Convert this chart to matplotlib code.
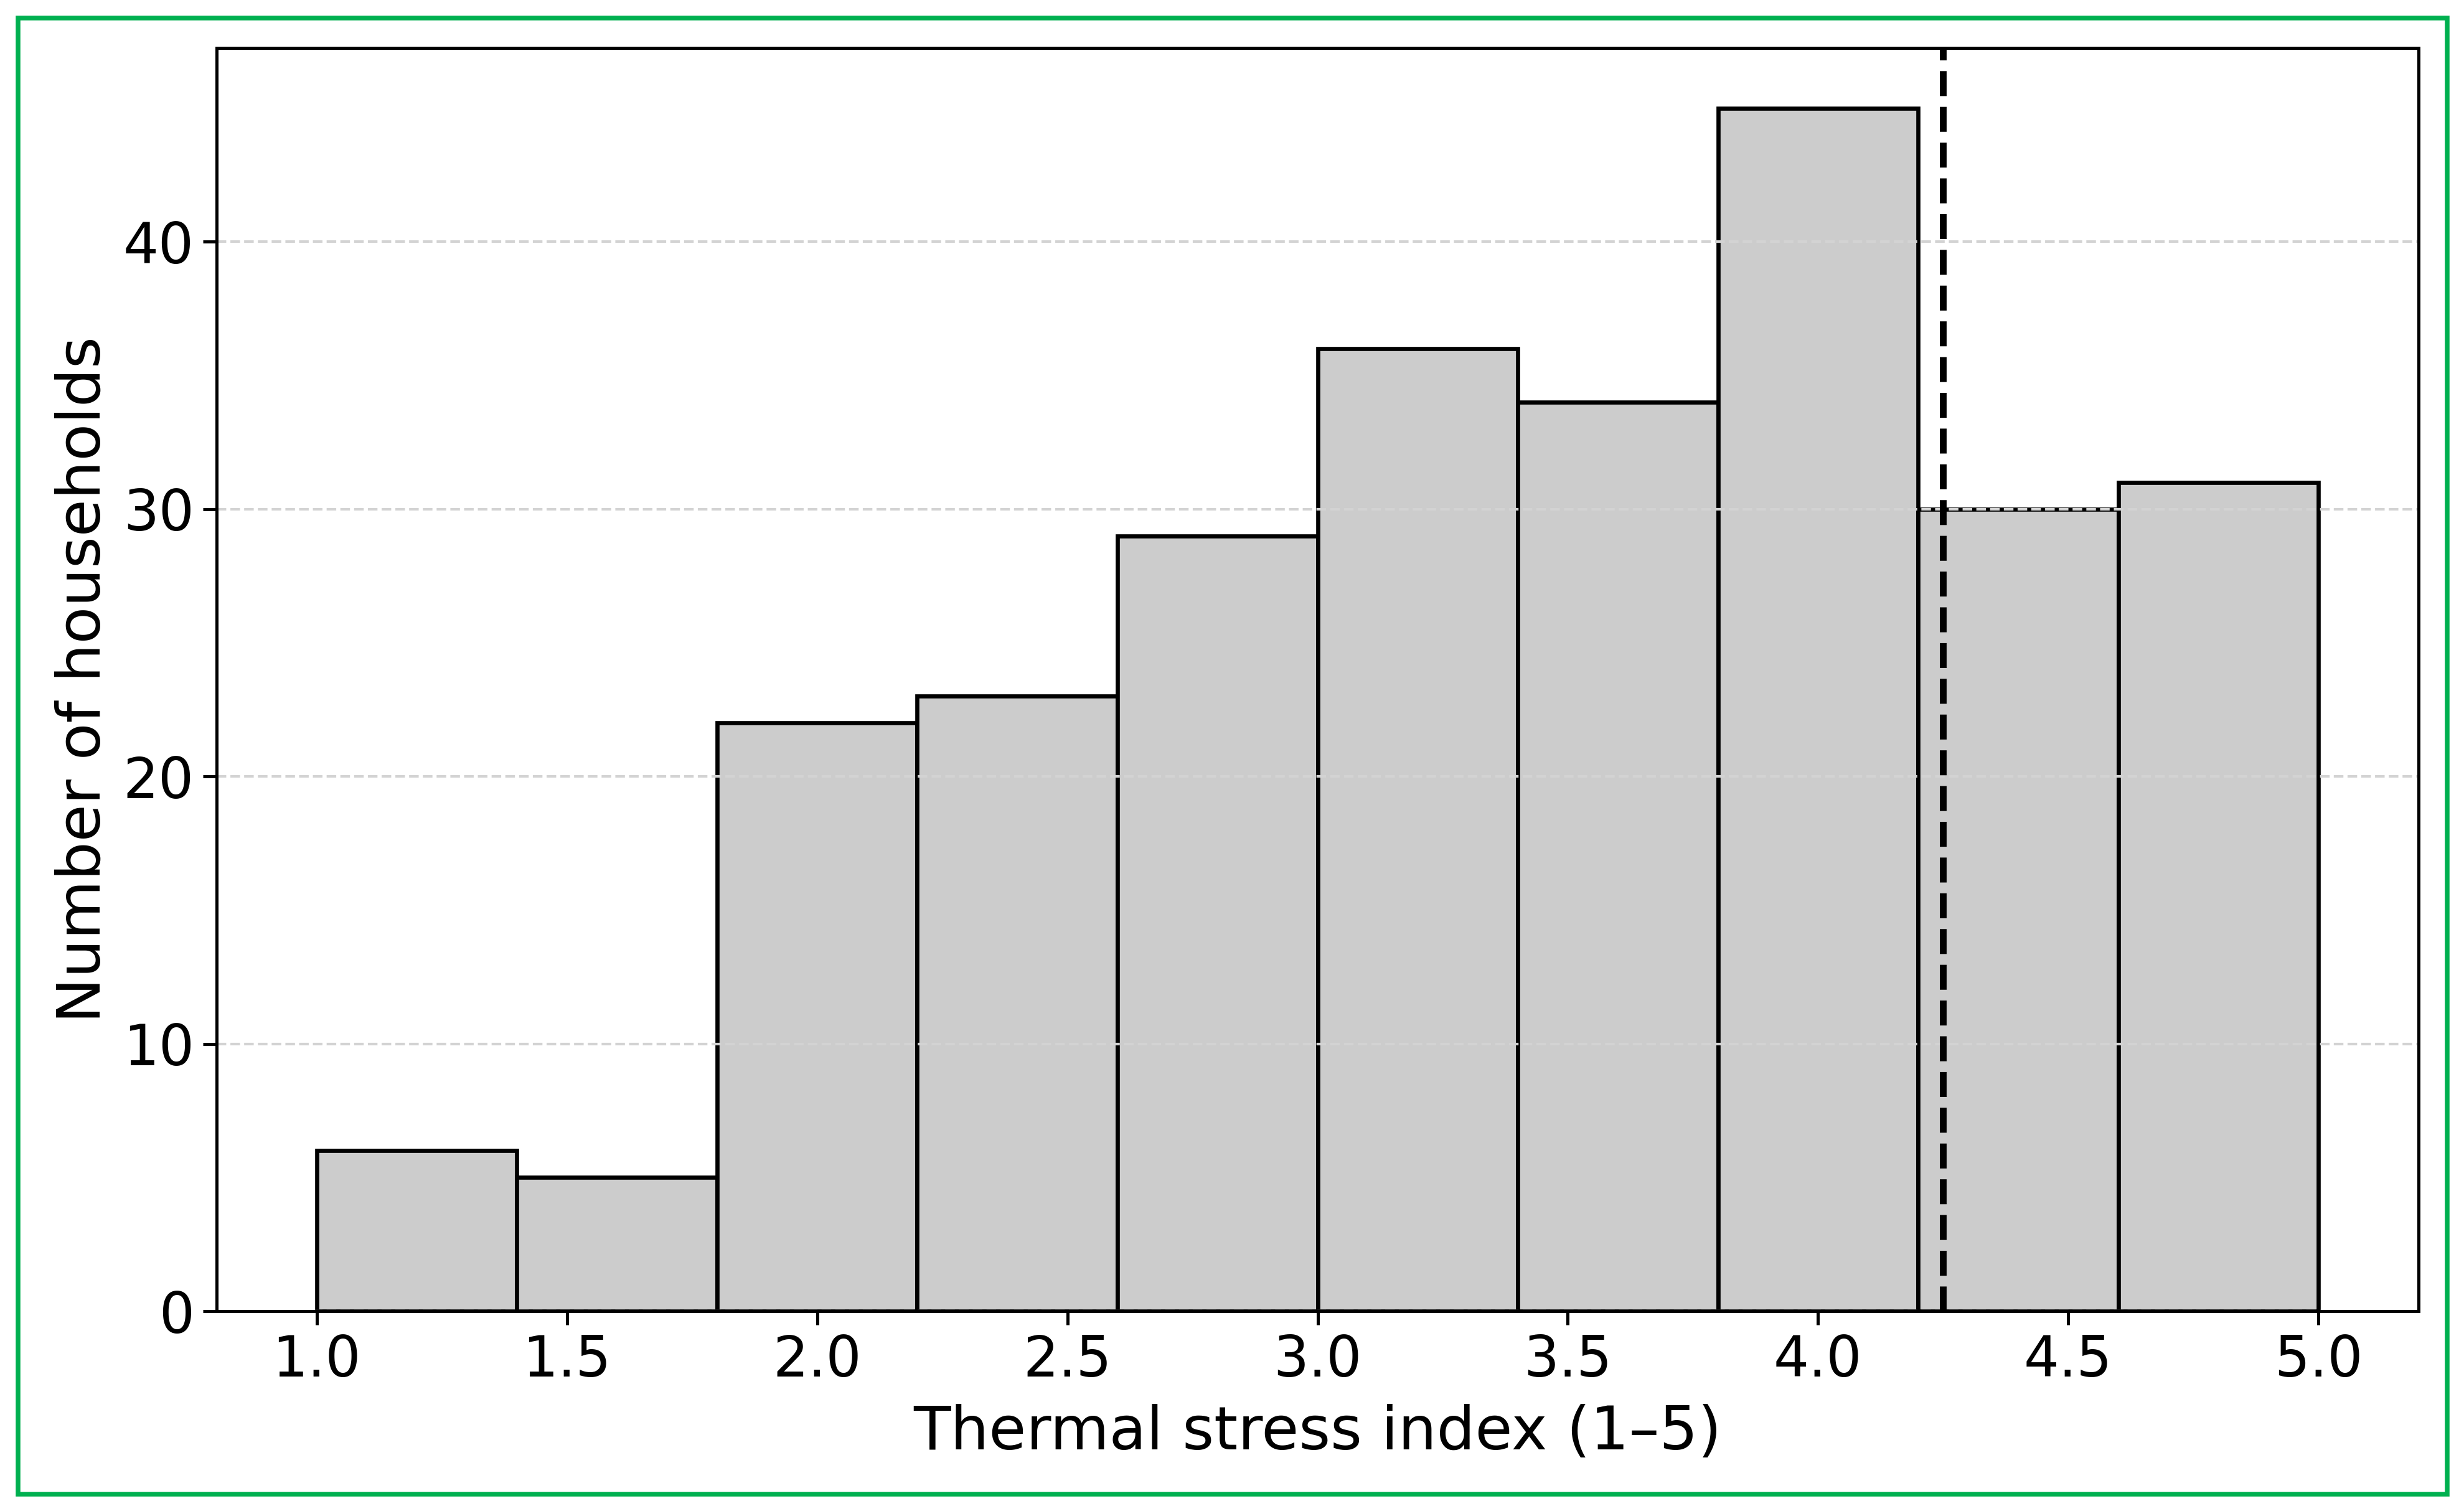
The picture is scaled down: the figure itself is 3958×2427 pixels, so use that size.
import matplotlib
matplotlib.use("Agg")
import matplotlib.pyplot as plt
from matplotlib.patches import Rectangle
import numpy as np

# Data
bin_edges = [1.0, 1.4, 1.8, 2.2, 2.6, 3.0, 3.4, 3.8, 4.2, 4.6, 5.0]
counts = [6, 5, 22, 23, 29, 36, 34, 45, 30, 31]
threshold = 4.25
xticks = [1.0, 1.5, 2.0, 2.5, 3.0, 3.5, 4.0, 4.5, 5.0]
yticks = [0, 10, 20, 30, 40]

W, H, DPI = 3958, 2427, 300
fig = plt.figure(figsize=(W / DPI, H / DPI), dpi=DPI)
ax = fig.add_axes([348 / W, 1 - 2106 / H, (3885 - 348) / W, (2106 - 77) / H])

centers = [(a + b) / 2 for a, b in zip(bin_edges[:-1], bin_edges[1:])]
ax.hist(centers, bins=bin_edges, weights=counts, color="#cccccc",
        edgecolor="black", linewidth=1.6)
ax.axvline(threshold, color="black", linestyle="--", linewidth=2.6)

ax.grid(axis="y", linestyle="--", color="lightgray", linewidth=1.0)
ax.set_xticks(xticks)
ax.set_yticks(yticks)
ax.tick_params(labelsize=21.5, length=5.2, width=1.2)
for s in ax.spines.values():
    s.set_linewidth(1.2)
ax.set_xlabel("Thermal stress index (1–5)", fontsize=23.4, labelpad=6)
ax.set_ylabel("Number of households", fontsize=23.4)

fig.patches.append(Rectangle((29 / W, 1 - 2400 / H), (3931 - 29) / W, (2400 - 29) / H,
                             transform=fig.transFigure, fill=False,
                             edgecolor="#00b050", linewidth=1.8))

fig.savefig("out.png", dpi=DPI)
